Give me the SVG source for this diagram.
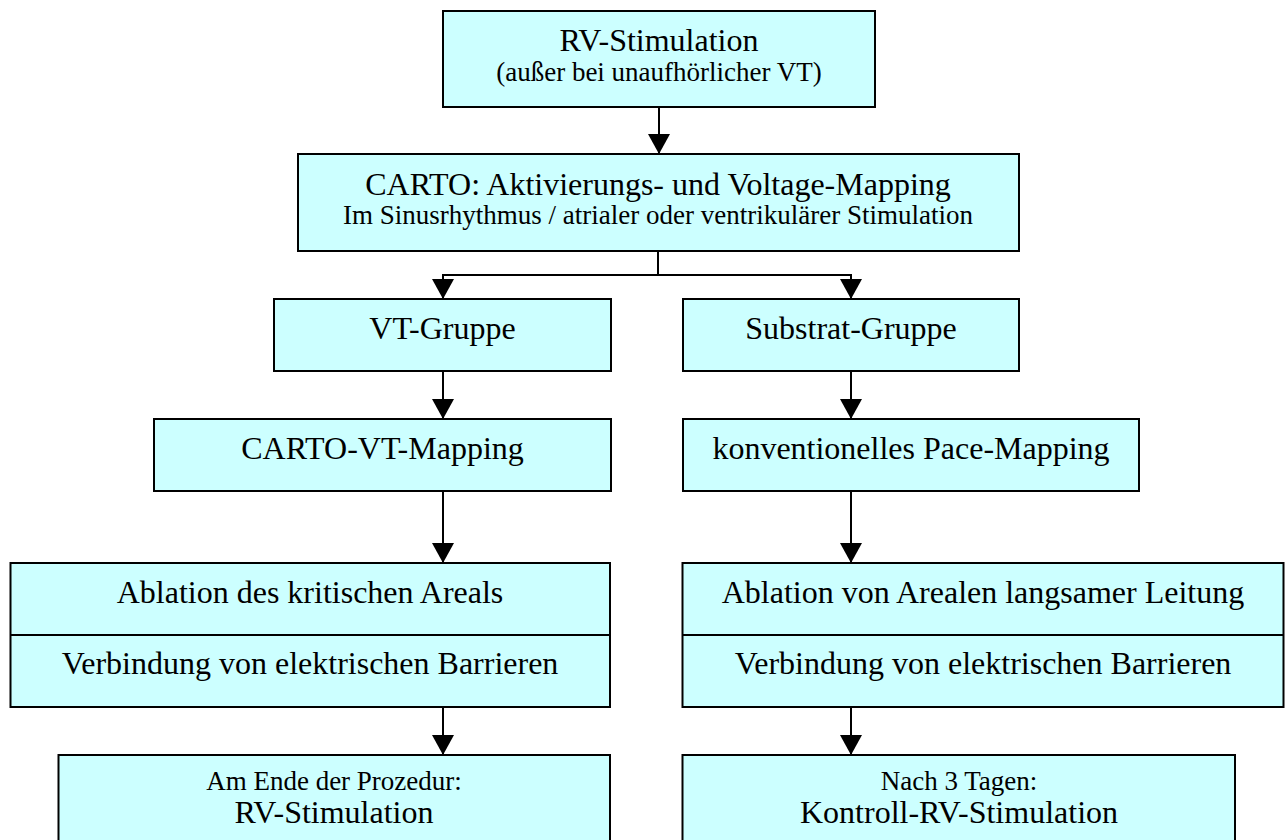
<svg xmlns="http://www.w3.org/2000/svg" width="1287" height="840" viewBox="0 0 1287 840">
<style>
.box{fill:#CCFFFF;stroke:#000;stroke-width:2}
.div{stroke:#000;stroke-width:2;fill:none}
.t{font-family:"Liberation Serif","Times New Roman",serif;font-size:32px;fill:#000;text-anchor:middle}
.s{font-family:"Liberation Serif","Times New Roman",serif;font-size:27px;fill:#000;text-anchor:middle}
.c{stroke:#000;stroke-width:2;fill:none;marker-end:url(#ah)}
</style>
<defs>
<marker id="ah" markerUnits="userSpaceOnUse" markerWidth="20" markerHeight="22" viewBox="0 0 20 22" refX="20" refY="11" orient="auto">
<path d="M0,0 L20,11 L0,22 Z" fill="#000"/>
</marker>
</defs>
<rect width="1287" height="840" fill="#fff"/>
<g id="n1">
<rect class="box" x="443" y="11" width="432" height="96"/>
<text class="t" x="659" y="51">RV-Stimulation</text>
<text class="s" x="659" y="81">(außer bei unaufhörlicher VT)</text>
</g>
<g id="n2">
<rect class="box" x="298" y="154" width="721" height="97"/>
<text class="t" x="658" y="195">CARTO: Aktivierungs- und Voltage-Mapping</text>
<text class="s" x="658" y="224">Im Sinusrhythmus / atrialer oder ventrikulärer Stimulation</text>
</g>
<g id="n3">
<rect class="box" x="274" y="299" width="337" height="72"/>
<text class="t" x="442.5" y="339">VT-Gruppe</text>
</g>
<g id="n4">
<rect class="box" x="683" y="299" width="336" height="72"/>
<text class="t" x="851" y="339">Substrat-Gruppe</text>
</g>
<g id="n5">
<rect class="box" x="154" y="419" width="457" height="72"/>
<text class="t" x="382.5" y="459">CARTO-VT-Mapping</text>
</g>
<g id="n6">
<rect class="box" x="683" y="419" width="456" height="72"/>
<text class="t" x="911" y="459">konventionelles Pace-Mapping</text>
</g>
<g id="n7">
<rect class="box" x="10.5" y="563" width="599.5" height="144"/>
<line class="div" x1="10.5" y1="635" x2="610" y2="635"/>
<text class="t" x="310" y="603">Ablation des kritischen Areals</text>
<text class="t" x="310" y="674">Verbindung von elektrischen Barrieren</text>
</g>
<g id="n8">
<rect class="box" x="682.5" y="563" width="601" height="144"/>
<line class="div" x1="682.5" y1="635" x2="1283.5" y2="635"/>
<text class="t" x="983" y="603">Ablation von Arealen langsamer Leitung</text>
<text class="t" x="983" y="674">Verbindung von elektrischen Barrieren</text>
</g>
<g id="n9">
<rect class="box" x="58.5" y="755" width="551.5" height="110"/>
<text class="s" x="334" y="790">Am Ende der Prozedur:</text>
<text class="t" x="334" y="823">RV-Stimulation</text>
</g>
<g id="n10">
<rect class="box" x="682.5" y="755" width="552.5" height="110"/>
<text class="s" x="959" y="790">Nach 3 Tagen:</text>
<text class="t" x="959" y="823">Kontroll-RV-Stimulation</text>
</g>
<g id="connectors">
<path class="c" d="M659,107 V154"/>
<path class="c" d="M658,251 V275 H443 V299"/>
<path class="c" d="M658,275 H851 V299"/>
<path class="c" d="M443,371 V419"/>
<path class="c" d="M851,371 V419"/>
<path class="c" d="M443,491 V563"/>
<path class="c" d="M851,491 V563"/>
<path class="c" d="M443,707 V755"/>
<path class="c" d="M851,707 V755"/>
</g>
</svg>
